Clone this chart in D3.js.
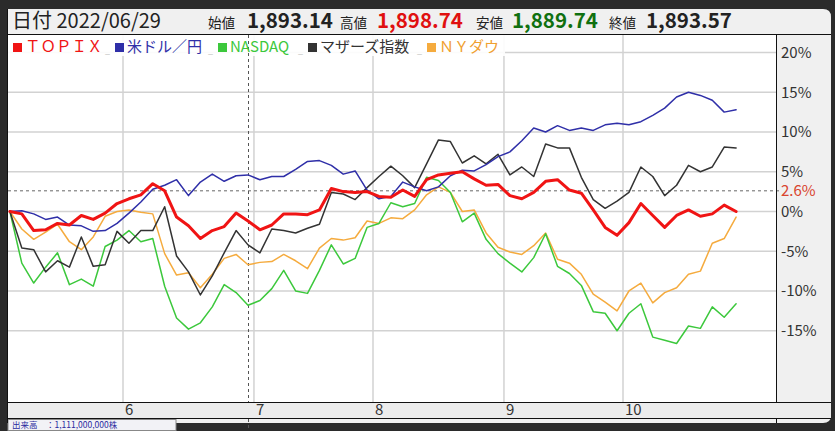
<!DOCTYPE html>
<html><head><meta charset="utf-8">
<script src="https://cdn.jsdelivr.net/npm/d3@7"></script>
<style>html,body{margin:0;padding:0;background:#2b2b2b;overflow:hidden}</style>
</head><body><svg id="c" width="835" height="431"></svg>
<script>
// ---- data (trading-day index, every 2 days) ----
const days = d3.range(0, 123, 2);
const topix = [0,-0.3,-2.4,-2.3,-1.5,-1.7,-0.5,-1.0,-0.2,1.0,1.6,2.1,3.5,2.6,-0.7,-1.8,-3.4,-2.4,-1.9,-0.2,-1.2,-2.3,-1.7,-0.3,-0.3,-0.4,0.2,2.9,2.5,2.4,2.5,1.9,1.8,2.7,1.9,4.0,4.6,4.8,5.0,4.1,3.3,3.4,2.0,1.6,2.4,3.8,4.0,2.7,2.3,0.2,-2.0,-3.0,-1.4,1.0,-0.5,-2.0,-0.5,0.2,-0.6,-0.3,0.8,0];
const usdjpy = [0,0.1,-0.3,-1.0,-0.7,-1.7,-1.8,-2.5,-2.4,-1.5,-0.2,1.2,2.8,3.3,4.0,2.0,3.7,4.7,3.8,4.5,4.6,4.0,4.4,4.4,5.3,6.3,6.4,5.8,4.7,5.1,2.7,1.6,1.9,3.7,3.1,2.6,3.1,4.5,5.2,5.1,5.9,6.9,7.5,8.9,10.5,10.0,10.8,10.2,10.5,10.2,10.9,11.1,10.9,11.3,12.1,13.0,14.4,15.0,14.6,14.0,12.5,12.8];
const nasdaq = [0,-6.5,-9.0,-7.0,-5.2,-9.2,-8.5,-9.4,-4.4,-3.6,-2.4,-3.8,-3.4,-9.4,-13.4,-14.8,-14.0,-12.0,-9.2,-10.2,-11.8,-11.2,-9.7,-7.4,-10.0,-10.3,-7.4,-4.2,-6.6,-5.9,-2.0,-1.5,1.1,0.6,1.0,4.3,3.9,2.4,-1.3,-0.2,-3.5,-5.3,-6.5,-7.6,-5.8,-2.8,-6.9,-7.8,-9.3,-12.6,-12.8,-15.0,-12.8,-11.6,-15.8,-16.2,-16.6,-14.4,-14.7,-12.0,-13.3,-11.6];
const mothers = [0,-4.6,-4.8,-7.6,-6.2,-7.0,-3.2,-6.9,-6.7,-2.5,-4.0,-2.4,-2.4,0.6,-5.6,-7.6,-10.5,-8.1,-5.2,-2.4,-4.2,-5.2,-2.2,-2.4,-2.7,-2.1,-1.6,2.4,2.2,1.5,3.0,4.4,5.7,4.5,3.0,6.0,9.0,8.8,6.1,7.0,6.0,7.2,4.6,5.6,4.4,8.5,8.0,8.0,4.3,1.5,0.4,1.3,2.4,5.6,4.4,2.0,3.3,5.8,5.0,5.6,8.1,8.0];
const nydow = [0,-2.2,-3.5,-2.6,-1.6,-3.8,-4.8,-3.2,-0.6,0.0,0.2,-0.1,-0.3,-5.3,-8.0,-7.7,-9.6,-7.9,-5.9,-5.4,-6.7,-6.4,-6.3,-5.4,-6.2,-7.2,-4.6,-3.4,-3.6,-3.3,-1.2,-1.5,-0.8,-0.9,0.2,2.1,3.1,2.4,0.0,0.2,-2.7,-4.5,-5.1,-5.4,-4.3,-2.7,-6.0,-6.5,-7.9,-10.4,-11.4,-12.5,-10.0,-9.0,-11.5,-10.2,-9.6,-7.9,-7.5,-4.0,-3.4,-0.7];

const seriesNames = ["ＴＯＰＩＸ","米ドル／円","NASDAQ","マザーズ指数","ＮＹダウ"];
const seriesColors = ["#f01414","#2f2fa8","#3cc83c","#333333","#f5ab3e"];
const seriesWidths = [3,1.5,1.5,1.5,1.5];
const seriesValues = [topix, usdjpy, nasdaq, mothers, nydow];
const drawOrder = [4,2,3,1,0];

const monthTicks = [19,41,61,83,103];
const monthLabels = ["6","7","8","9","10"];
const yTicks = [-15,-10,-5,0,5,10,15,20];
const yTickLabels = ["-15%","-10%","-5%","0%","5%","10%","15%","20%"];
const refLevel = 2.6;
const refLabel = "2.6%";
const cursorDay = 40;
const headerDate = "2022/06/29";
const quoteLabels = ["始値","高値","安値","終値"];
const quoteValues = ["1,893.14","1,898.74","1,889.74","1,893.57"];
const quoteColors = ["#222","#e01010","#107010","#222"];
const volumeText = "出来高　：1,111,000,000株";

// ---- layout ----
const svg = d3.select("#c");
const L = 7, R = 831, T = 9, B = 423, HB = 34, PL = 8, PR = 776, PT = 35, PB = 402, XB = 418;
const x = d3.scaleLinear().domain([0,122]).range([9.9,736.1]);
const y = d3.scaleLinear().domain([-24,22.2]).range([402.3,35]);
const FONT = "'Noto Sans CJK JP','Noto Sans',sans-serif";

svg.append("rect").attr("width",835).attr("height",431).attr("fill","#2b2b2b");
const rr = 8;
svg.append("path").attr("fill","#f0f0f0")
  .attr("d",`M${L},${T} H${R-rr} Q${R},${T} ${R},${T+rr} V${B-rr} Q${R},${B} ${R-rr},${B} H${L} Z`);

// bottom-left volume box
svg.append("rect").attr("x",8).attr("y",419.5).attr("width",168).attr("height",11).attr("fill","#f2f2f6").attr("stroke","#888");
svg.append("text").attr("x",12).attr("y",427.5).attr("font-family",FONT).attr("font-size",8.5).attr("fill","#2a2aa0").text(volumeText);

// plot area
svg.append("rect").attr("x",PL).attr("y",PT).attr("width",PR-PL).attr("height",PB-PT).attr("fill","#fff");

// grid
svg.append("g").selectAll("line").data(yTicks).join("line")
  .attr("x1",PL).attr("x2",PR).attr("y1",d=>y(d)).attr("y2",d=>y(d))
  .attr("stroke","#d2d2d2").attr("stroke-width",1.5);
svg.append("g").selectAll("line").data(monthTicks).join("line")
  .attr("x1",d=>x(d)).attr("x2",d=>x(d)).attr("y1",PT).attr("y2",PB)
  .attr("stroke","#d2d2d2").attr("stroke-width",1.5);

// legend background
svg.append("rect").attr("x",PL).attr("y",PT).attr("width",497).attr("height",21).attr("fill","#fff").attr("fill-opacity",0.9);

// reference & cursor
svg.append("line").attr("x1",PL).attr("x2",PR+6).attr("y1",y(refLevel)).attr("y2",y(refLevel))
  .attr("stroke","#666").attr("stroke-dasharray","3,3").attr("stroke-width",1);
svg.append("line").attr("x1",Math.round(x(cursorDay))+0.5).attr("x2",Math.round(x(cursorDay))+0.5).attr("y1",PT).attr("y2",431)
  .attr("stroke","#555").attr("stroke-dasharray","3,3").attr("stroke-width",1);

// series
const line = d3.line().x((d,i)=>x(days[i])).y(d=>y(d));
drawOrder.forEach(i=>{
  svg.append("path").attr("d",line(seriesValues[i])).attr("fill","none")
    .attr("stroke",seriesColors[i]).attr("stroke-width",seriesWidths[i])
    .attr("stroke-linejoin","round").attr("stroke-linecap","round");
});

// legend
const legX = [13,115,218,308,427];
const legFS = [15.5,15,15,15,15];
seriesNames.forEach((n,i)=>{
  const g = svg.append("g");
  g.append("rect").attr("x",legX[i]).attr("y",43).attr("width",9).attr("height",9).attr("fill",seriesColors[i]);
  g.append("text").attr("x",legX[i]+12).attr("y",52).attr("font-family",FONT).attr("font-size",legFS[i])
    .attr("fill",seriesColors[i]==="#f5ab3e"?"#f0a030":seriesColors[i]).text(n);
  if(i<4) g.append("text").attr("x",legX[i+1]-10).attr("y",54).attr("font-family",FONT).attr("font-size",9).attr("fill","#bbb").text("_");
});

// right axis
svg.append("g").selectAll("text").data(yTicks).join("text")
  .attr("x",781).attr("y",d=>y(d)+5.5).attr("font-family",FONT).attr("font-size",15).attr("fill","#333")
  .text((d,i)=>yTickLabels[i]);
svg.append("text").attr("x",781).attr("y",y(refLevel)+5.5).attr("font-family",FONT).attr("font-size",15).attr("fill","#d9442e").text(refLabel);

// bottom axis band
svg.append("rect").attr("x",L).attr("y",PB).attr("width",R-L).attr("height",XB-PB).attr("fill","#ececec");
svg.append("g").selectAll("text").data(monthTicks).join("text")
  .attr("x",d=>x(d)+2).attr("y",415).attr("font-family",FONT).attr("font-size",15).attr("fill","#333")
  .text((d,i)=>monthLabels[i]);

// frame lines
const fl = (x1,y1,x2,y2)=>svg.append("line").attr("x1",x1).attr("y1",y1).attr("x2",x2).attr("y2",y2).attr("stroke","#111").attr("stroke-width",1);
fl(L,HB+0.5,R,HB+0.5);
fl(L,PB+0.5,R,PB+0.5);
fl(L,XB+0.5,R,XB+0.5);
fl(PR+0.5,HB,PR+0.5,PB);
fl(PR+0.5,XB,PR+0.5,B);
fl(L+0.5,T,L+0.5,B);

// header
svg.append("text").attr("x",12).attr("y",28).attr("font-family",FONT).attr("font-size",20).attr("fill","#222").text("日付 "+headerDate);
const qx = [208,340,476,609];
const vx = [247,377,512,646];
quoteLabels.forEach((q,i)=>{
  svg.append("text").attr("x",qx[i]).attr("y",28).attr("font-family",FONT).attr("font-size",13.5).attr("fill","#222").text(q);
  svg.append("text").attr("x",vx[i]).attr("y",28).attr("font-family",FONT).attr("font-size",20.5).attr("font-weight","bold")
    .attr("fill",quoteColors[i]).text(quoteValues[i]);
});
</script></body></html>
